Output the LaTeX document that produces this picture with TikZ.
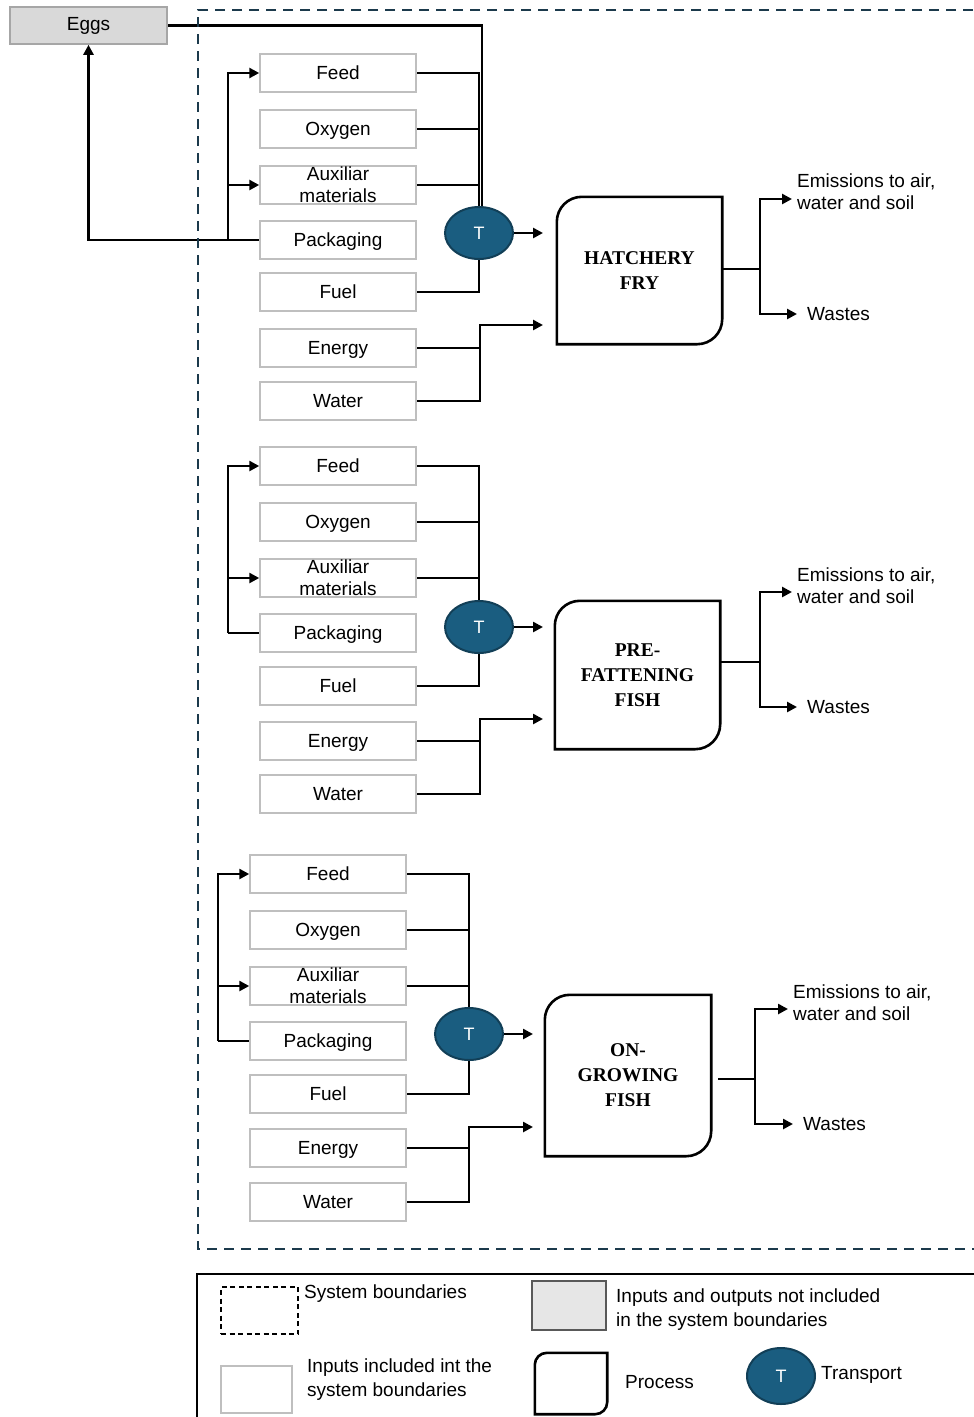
\documentclass[tikz,border=0pt]{standalone}
\usepackage{fontspec}
\setmainfont{Liberation Sans}
\newfontfamily\procfont{Liberation Serif}
\usetikzlibrary{shapes.geometric,arrows.meta}
\definecolor{tblue}{HTML}{1A5D80}
\definecolor{tborder}{HTML}{123F57}
\definecolor{bnavy}{HTML}{1C3A4C}
\definecolor{boxgray}{HTML}{BFBFBF}
\definecolor{eggfill}{HTML}{D9D9D9}
\definecolor{eggdraw}{HTML}{A6A6A6}
\definecolor{legfill}{HTML}{E6E6E6}
\definecolor{legdraw}{HTML}{595959}
\pgfdeclarelayer{bg}\pgfsetlayers{bg,main}
\newcommand\inputcol[9]{%
  \node[inbox] (feed#1) at (#2,#3) {}; \node[intext] at (feed#1) {Feed};
  \node[inbox] (oxy#1) at (#2,#4) {}; \node[intext] at (oxy#1) {Oxygen};
  \node[inbox] (aux#1) at (#2,#5) {}; \node[auxtext] at (aux#1) {Auxiliar\\materials};
  \node[inbox] (pack#1) at (#2,#6) {}; \node[intext] at (pack#1) {Packaging};
  \node[inbox] (fuel#1) at (#2,#7) {}; \node[intext] at (fuel#1) {Fuel};
  \node[inbox] (en#1) at (#2,#8) {}; \node[intext] at (en#1) {Energy};
  \node[inbox] (wat#1) at (#2,#9) {}; \node[intext] at (wat#1) {Water};
}
\newcommand\procoutline[2]{%
  \draw[procline] (#1.west) [rounded corners=#2] -- (#1.north west) -- (#1.north) [sharp corners] -- (#1.north east) -- (#1.east) [rounded corners=#2] -- (#1.south east) -- (#1.south) [sharp corners] -- (#1.south west) -- cycle;
}
\begin{document}
\begin{tikzpicture}[x=1pt,y=-1pt,
  inbox/.style={draw=boxgray,line width=1.5pt,fill=white,minimum width=156pt,minimum height=38pt,inner sep=0pt},
  intext/.style={font=\fontsize{19}{22}\selectfont,inner sep=0pt,text height=13.6pt,text depth=0pt},
  auxtext/.style={font=\fontsize{19}{22}\selectfont,align=center,inner sep=0pt},
  conn/.style={line width=2.8pt,black},
  arr/.style={-{Triangle[length=10pt,width=10pt]}},
  tnode/.style={ellipse,draw=tborder,line width=2pt,fill=tblue,text=white,minimum width=68pt,minimum height=52pt,inner sep=0pt,font=\fontsize{18}{20}\selectfont},
  proc/.style={inner sep=0pt,align=center,font=\procfont\bfseries\fontsize{19.5}{25}\selectfont},
  procline/.style={line width=2.6pt,black},
  outtext/.style={font=\fontsize{19}{22}\selectfont,align=left,inner sep=0pt,anchor=west},
  legtext/.style={font=\fontsize{19}{24}\selectfont,align=left,inner sep=0pt,anchor=west},
  boundary/.style={draw=bnavy,line width=2.8pt,dash pattern=on 10pt off 7pt}
]
\path[use as bounding box] (0,0) rectangle (974,1417);
\clip (0,0) rectangle (974,1417);

% system boundary
\draw[boundary] (990,10) -- (198,10) -- (198,1249) -- (990,1249);

% Eggs
\node[draw=eggdraw,fill=eggfill,line width=1.6pt,minimum width=157pt,minimum height=37pt,inner sep=0pt,font=\fontsize{19}{20}\selectfont] (eggs) at (88.5,25.5) {Eggs};

% ---------- Stage 1 ----------
\inputcol{1}{338}{73}{129}{185}{240}{292}{348}{401}
\node[tnode] (t1) at (479,233) {T};
\node[proc,minimum width=165pt,minimum height=147pt] (p1) at (639.5,270.5) {HATCHERY\\FRY};
\procoutline{p1}{25pt}
\node[outtext] (em1) at (797,192) {Emissions to air,\\water and soil};
\node[outtext] (wa1) at (807,314) {Wastes};
\coordinate (ta1) at (543,233);
\coordinate (eb1) at (480,325);
\coordinate (ea1) at (543,325);
\coordinate (o1) at (760,269);
\coordinate (ema1) at (792,199);
\coordinate (waa1) at (797,314);
\coordinate (lb1) at (228,240);
\coordinate (egb) at (482,215);

% ---------- Stage 2 ----------
\inputcol{2}{338}{466}{522}{578}{633}{686}{741}{794}
\node[tnode] (t2) at (479,627) {T};
\node[proc,minimum width=165pt,minimum height=148pt] (p2) at (637.5,675) {PRE-\\FATTENING\\FISH};
\procoutline{p2}{25pt}
\node[outtext] (em2) at (797,586) {Emissions to air,\\water and soil};
\node[outtext] (wa2) at (807,707) {Wastes};
\coordinate (ta2) at (543,627);
\coordinate (eb2) at (480,719);
\coordinate (ea2) at (543,719);
\coordinate (o2) at (760,662);
\coordinate (ema2) at (792,592);
\coordinate (waa2) at (797,707);
\coordinate (lb2) at (228,633);

% ---------- Stage 3 ----------
\inputcol{3}{328}{874}{930}{986}{1041}{1094}{1148}{1202}
\node[tnode] (t3) at (469,1034) {T};
\node[proc,minimum width=166pt,minimum height=161pt] (p3) at (628,1075.5) {ON-\\GROWING\\FISH};
\procoutline{p3}{25pt}
\node[outtext] (em3) at (793,1003) {Emissions to air,\\water and soil};
\node[outtext] (wa3) at (803,1124) {Wastes};
\coordinate (ta3) at (533,1034);
\coordinate (eb3) at (469,1127);
\coordinate (ea3) at (533,1127);
\coordinate (os3) at (718,1079);
\coordinate (o3) at (755,1079);
\coordinate (ema3) at (788,1009);
\coordinate (waa3) at (793,1124);
\coordinate (lb3) at (218,1041);

\begin{pgfonlayer}{bg}
  % stage 1
  \draw[conn] (eggs.east) -| (egb);
  \draw[conn] (feed1.east) -| (t1.north);
  \draw[conn] (oxy1.east) -- (oxy1.east -| t1.north);
  \draw[conn] (aux1.east) -- (aux1.east -| t1.north);
  \draw[conn] (fuel1.east) -| (t1.south);
  \draw[conn,arr] (t1.east) -- (ta1);
  \draw[conn] (en1.east) -- (en1.east -| eb1);
  \draw[conn,arr] (wat1.east) -| (eb1) -- (ea1);
  \draw[conn] (p1.east |- o1) -- (o1);
  \draw[conn,arr] (o1) |- (ema1);
  \draw[conn,arr] (o1) |- (waa1);
  \draw[conn] (pack1.west) -- (lb1);
  \draw[conn,arr] (lb1) |- (feed1.west);
  \draw[conn,arr] (aux1.west -| lb1) -- (aux1.west);
  \draw[conn,arr] (lb1) -| (eggs.south);
  % stage 2
  \draw[conn] (feed2.east) -| (t2.north);
  \draw[conn] (oxy2.east) -- (oxy2.east -| t2.north);
  \draw[conn] (aux2.east) -- (aux2.east -| t2.north);
  \draw[conn] (fuel2.east) -| (t2.south);
  \draw[conn,arr] (t2.east) -- (ta2);
  \draw[conn] (en2.east) -- (en2.east -| eb2);
  \draw[conn,arr] (wat2.east) -| (eb2) -- (ea2);
  \draw[conn] (p2.east |- o2) -- (o2);
  \draw[conn,arr] (o2) |- (ema2);
  \draw[conn,arr] (o2) |- (waa2);
  \draw[conn] (pack2.west) -- (lb2);
  \draw[conn,arr] (lb2) |- (feed2.west);
  \draw[conn,arr] (aux2.west -| lb2) -- (aux2.west);
  % stage 3
  \draw[conn] (feed3.east) -| (t3.north);
  \draw[conn] (oxy3.east) -- (oxy3.east -| t3.north);
  \draw[conn] (aux3.east) -- (aux3.east -| t3.north);
  \draw[conn] (fuel3.east) -| (t3.south);
  \draw[conn,arr] (t3.east) -- (ta3);
  \draw[conn] (en3.east) -- (en3.east -| eb3);
  \draw[conn,arr] (wat3.east) -| (eb3) -- (ea3);
  \draw[conn] (os3) -- (o3);
  \draw[conn,arr] (o3) |- (ema3);
  \draw[conn,arr] (o3) |- (waa3);
  \draw[conn] (pack3.west) -- (lb3);
  \draw[conn,arr] (lb3) |- (feed3.west);
  \draw[conn,arr] (aux3.west -| lb3) -- (aux3.west);
\end{pgfonlayer}

% ---------- Legend ----------
\draw[line width=2.8pt,black] (990,1274) -- (197,1274) -- (197,1430);
\node[draw=black,line width=1.8pt,dash pattern=on 5pt off 3.5pt,minimum width=77pt,minimum height=47pt,inner sep=0pt] (lsb) at (259.5,1310.5) {};
\node[legtext] (lsbt) at (304,1294) {System boundaries};
\node[draw=legdraw,fill=legfill,line width=1.6pt,minimum width=74pt,minimum height=49pt,inner sep=0pt] (lno) at (569,1305.5) {};
\node[legtext] (lnot) at (616,1310) {Inputs and outputs not included\\in the system boundaries};
\node[draw=boxgray,line width=1.5pt,minimum width=71pt,minimum height=47pt,inner sep=0pt] (lin) at (256.5,1389.5) {};
\node[legtext] (lint) at (307,1380) {Inputs included int the\\system boundaries};
\node[minimum width=72pt,minimum height=61pt,inner sep=0pt] (lproc) at (571,1383.5) {};
\procoutline{lproc}{12pt}
\node[legtext] (lproct) at (625,1382) {Process};
\node[tnode,minimum width=68pt,minimum height=56pt] (lt) at (781,1376) {T};
\node[legtext] (ltt) at (821,1375) {Transport};
\end{tikzpicture}
\end{document}
